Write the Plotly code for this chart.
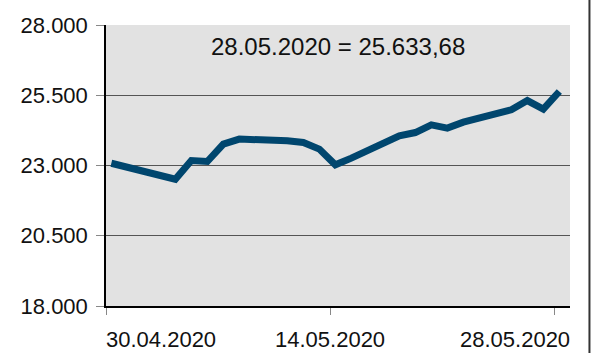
import pandas as pd
import plotly.graph_objects as go

# Daily closing values, 30.04.2020 - 28.05.2020
dates = ["2020-04-30", "2020-05-04", "2020-05-05", "2020-05-06", "2020-05-07",
         "2020-05-08", "2020-05-11", "2020-05-12", "2020-05-13", "2020-05-14",
         "2020-05-15", "2020-05-18", "2020-05-19", "2020-05-20", "2020-05-21",
         "2020-05-22", "2020-05-25", "2020-05-26", "2020-05-27", "2020-05-28"]
values = [23080, 22510, 23178, 23142, 23761,
          23939, 23880, 23818, 23583, 23025,
          23263, 24056, 24173, 24447, 24330,
          24543, 24981, 25311, 25006, 25633.68]

y_ticks = [18000, 20500, 23000, 25500, 28000]
y_tick_text = ["18.000", "20.500", "23.000", "25.500", "28.000"]
x_ticks = ["2020-04-30", "2020-05-14", "2020-05-28"]
x_tick_text = ["30.04.2020", "14.05.2020", "28.05.2020"]

last_label = "28.05.2020 = 25.633,68"

# plot each close a third of a day after its date tick
x = pd.to_datetime(dates) + pd.Timedelta(hours=8)

FONT = "Liberation Sans, Arial, sans-serif"
TXT = "#111111"

fig = go.Figure()
fig.add_trace(go.Scatter(
    x=x, y=values, mode="lines",
    line=dict(color="#00466e", width=7, shape="linear"),
    hoverinfo="skip", showlegend=False,
))

# date labels: first flush left, middle centred, last flush right
anchors = [("left", -2), ("center", 0), ("right", 18)]
annotations = []
for tv, tt, (anc, dx) in zip(x_ticks, x_tick_text, anchors):
    annotations.append(dict(
        text=tt, x=tv, xref="x", y=0, yref="paper",
        xanchor=anc, yanchor="middle", yshift=-33, xshift=dx,
        showarrow=False, font=dict(family=FONT, size=22, color=TXT),
    ))

annotations.append(dict(
    text=last_label, xref="paper", yref="paper",
    x=(338.5 - 105.5) / 465, y=(306.3 - 46) / 281.8,
    xanchor="center", yanchor="middle", showarrow=False,
    font=dict(family=FONT, size=24, color=TXT),
))

fig.update_layout(
    width=599, height=353,
    margin=dict(l=105.5, r=28.5, t=24.5, b=46.7),
    paper_bgcolor="white",
    plot_bgcolor="#e2e2e2",
    font=dict(family=FONT, size=22, color=TXT),
    xaxis=dict(
        type="date",
        range=["2020-04-30", "2020-05-29"],
        tickvals=x_ticks, showticklabels=False,
        showgrid=False, zeroline=False,
        showline=True, linecolor="#000000", linewidth=1.5,
        ticks="outside", ticklen=7, tickcolor="#888888", tickwidth=1,
    ),
    yaxis=dict(
        range=[18000, 28000],
        tickvals=y_ticks, ticktext=y_tick_text,
        showgrid=True, gridcolor="#555555", gridwidth=1,
        zeroline=False,
        showline=True, linecolor="#000000", linewidth=1.5,
        ticks="outside", ticklen=8, tickcolor="#888888", tickwidth=1,
        ticklabelstandoff=4,
        tickfont=dict(family=FONT, size=22, color=TXT),
    ),
    annotations=annotations,
    shapes=[dict(
        type="line", xref="paper", yref="paper",
        x0=(590 - 105.5) / 465, x1=(590 - 105.5) / 465,
        y0=-0.2, y1=1.1,
        line=dict(color="#333333", width=2),
    )],
)

fig.write_html("out.html")
